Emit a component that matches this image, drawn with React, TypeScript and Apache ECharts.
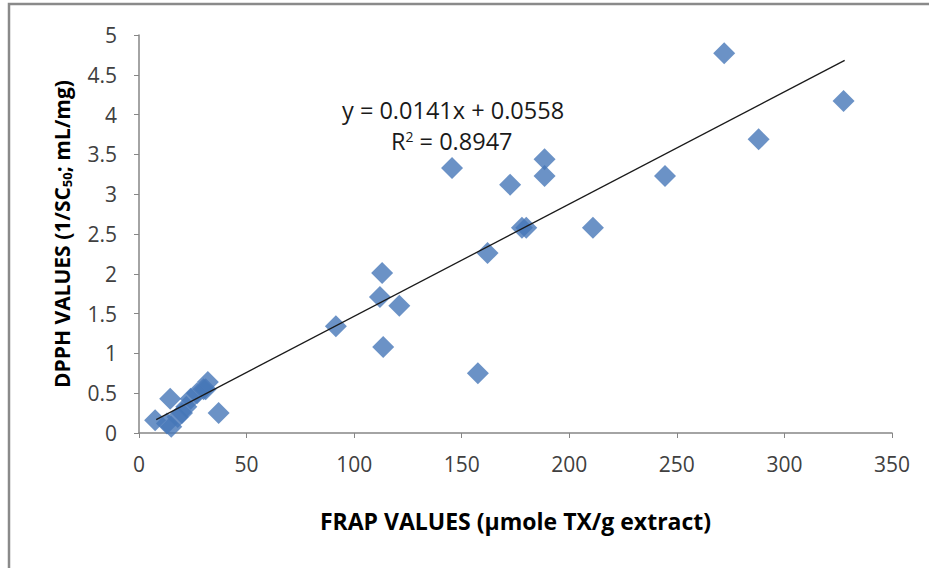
import React, { useEffect, useRef } from "react";
import * as echarts from "echarts";

const frapValues = [7.5, 13, 15, 14.5, 18, 20, 22, 24, 27, 30, 31, 32, 37,
  91.5, 112, 113, 113.5, 121, 145.5, 157.5, 162, 172.5, 178, 180, 188.5, 188.5, 211, 244.5, 272, 288, 327.5];
const dpphValues = [0.16, 0.12, 0.08, 0.43, 0.2, 0.25, 0.33, 0.43, 0.5, 0.55, 0.55, 0.64, 0.25,
  1.34, 1.71, 2.01, 1.08, 1.6, 3.33, 0.75, 2.26, 3.12, 2.58, 2.58, 3.44, 3.23, 2.58, 3.23, 4.77, 3.69, 4.17];
const slope = 0.0141;
const intercept = 0.0558;
const trendRange = [8, 328];
const xTicks = { min: 0, max: 350, interval: 50 };
const yTicks = { min: 0, max: 5, interval: 0.5 };

export default function App() {
  const ref = useRef<HTMLDivElement>(null);
  useEffect(() => {
    const chart = echarts.init(ref.current!, null, { renderer: "svg" });
    const points = frapValues.map((x, i) => [x, dpphValues[i]]);
    const trend = trendRange.map((x) => [x, slope * x + intercept]);
    const font = "'Open Sans', 'Noto Sans', sans-serif";
    chart.setOption({
      animation: false,
      grid: { left: 139, top: 35, right: 37, bottom: 135 },
      graphic: [
        {
          type: "rect",
          shape: { x: 9, y: 4, width: 1000, height: 700 },
          style: { fill: "none", stroke: "#8a8a8a", lineWidth: 2.5 },
          silent: true,
          z: 0,
        },
        {
          type: "text",
          left: 342,
          top: 98,
          style: { text: "y = 0.0141x + 0.0558", fontSize: 23.5, fontFamily: font, fill: "#1a1a1a" },
        },
        {
          type: "text",
          left: 391,
          top: 129,
          style: {
            text: "{n|R}{s|2}{n| = 0.8947}",
            fontFamily: font,
            fill: "#1a1a1a",
            rich: {
              n: { fontSize: 23.5, fontFamily: font, fill: "#1a1a1a" },
              s: { fontSize: 14, fontFamily: font, fill: "#1a1a1a", verticalAlign: "top", padding: [0, 0, 9, 0] },
            },
          },
        },
      ],
      xAxis: {
        type: "value",
        min: xTicks.min,
        max: xTicks.max,
        interval: xTicks.interval,
        name: "FRAP VALUES (µmole TX/g extract)",
        nameLocation: "middle",
        nameGap: 76,
        nameTextStyle: { fontSize: 23, fontWeight: "bold", color: "#000", fontFamily: font },
        axisLine: { show: true, lineStyle: { color: "#868686", width: 1.5 } },
        axisTick: { show: true, inside: false, length: 5, lineStyle: { color: "#868686" } },
        axisLabel: { fontSize: 21, color: "#404040", margin: 20, fontFamily: font },
        splitLine: { show: false },
      },
      yAxis: {
        type: "value",
        min: yTicks.min,
        max: yTicks.max,
        interval: yTicks.interval,
        name: "{b|DPPH VALUES (1/SC}{sub|50}{b|; mL/mg)}",
        nameLocation: "middle",
        nameGap: 66,
        nameRotate: 90,
        nameTextStyle: {
          fontFamily: font,
          rich: {
            b: { fontSize: 21, fontWeight: "bold", color: "#000", fontFamily: font },
            sub: { fontSize: 13, fontWeight: "bold", color: "#000", fontFamily: font, verticalAlign: "bottom", padding: [9, 0, 0, 0] },
          },
        },
        axisLine: { show: true, lineStyle: { color: "#868686", width: 1.5 } },
        axisTick: { show: true, inside: false, length: 5, lineStyle: { color: "#868686" } },
        axisLabel: { fontSize: 21, color: "#404040", margin: 22, fontFamily: font },
        splitLine: { show: false },
      },
      series: [
        {
          type: "scatter",
          data: points,
          symbol: "diamond",
          symbolSize: 22,
          itemStyle: { color: "#4677b8" },
          z: 2,
        },
        {
          type: "line",
          data: trend,
          symbol: "none",
          lineStyle: { color: "#1a1a1a", width: 1.3 },
          z: 3,
        },
      ],
    });
    return () => chart.dispose();
  }, []);
  return <div ref={ref} style={{ position: "fixed", left: 0, top: 0, width: 929, height: 568, background: "#fff" }} />;
}
